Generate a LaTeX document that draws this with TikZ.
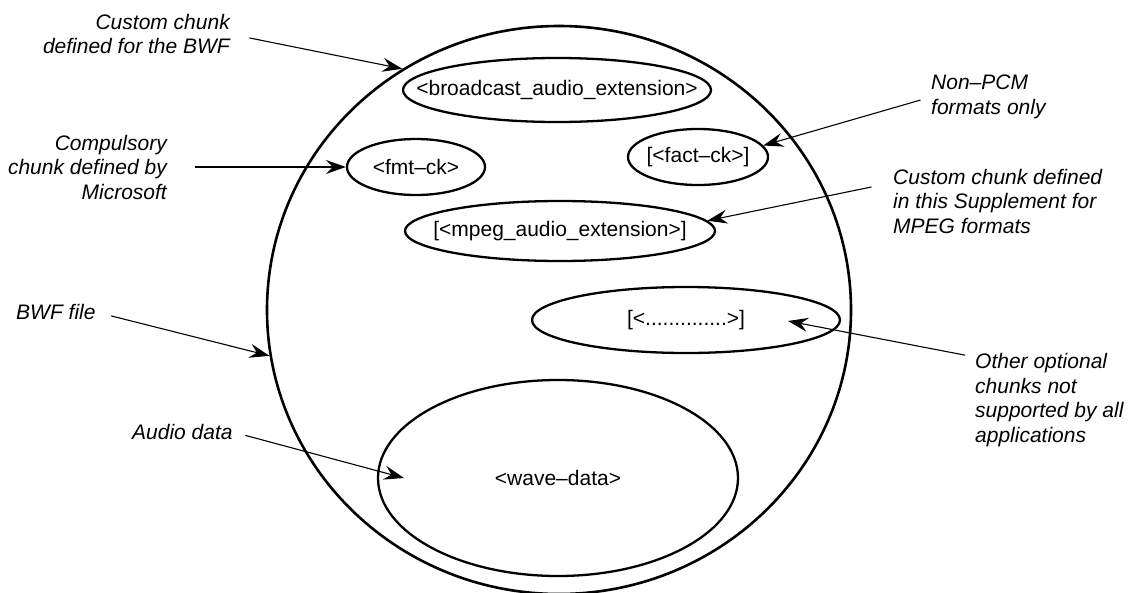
\documentclass[tikz,border=0pt]{standalone}
\usepackage{fontspec}
\setmainfont{Liberation Sans}
\usetikzlibrary{shapes.geometric,arrows.meta}

% ข้อความใน chunk ไม่กำหนดขนาดวงรี
\newcommand{\cktext}[1]{\makebox[0pt]{#1}}

\tikzset{
  chunk/.style={draw, ellipse, line width=2.3pt, inner sep=0pt, font=\fontsize{21}{24.5}\selectfont},
  note/.style={font=\fontsize{21}{24.5}\selectfont\itshape, inner sep=0pt},
  pointer/.style={-{Stealth[length=20pt,width=14pt,inset=7pt]}, line width=1.1pt},
}

\begin{document}
\begin{tikzpicture}[x=1pt,y=-1pt]
  \useasboundingbox (0,0) rectangle (1135,592);

  % วงรีใหญ่ (ไฟล์ BWF)
  \node[chunk, line width=2.6pt, minimum width=584pt, minimum height=568pt] (bwf) at (559,310) {};

  % chunk ต่าง ๆ ภายในไฟล์
  \node[chunk, minimum width=308pt, minimum height=64pt] (bext) at (557,90) {\cktext{<broadcast\_audio\_extension>}};
  \node[chunk, minimum width=138pt, minimum height=56pt] (fmt) at (416,167) {\cktext{<fmt–ck>}};
  \node[chunk, minimum width=140pt, minimum height=56pt] (fact) at (698,157) {\cktext{[<fact–ck>]}};
  \node[chunk, minimum width=310pt, minimum height=60pt] (mpeg) at (560,231) {\cktext{[<mpeg\_audio\_extension>]}};
  \node[chunk, minimum width=308pt, minimum height=66pt] (other) at (686,320) {\cktext{[<..............>]}};
  \node[chunk, minimum width=360pt, minimum height=196pt] (wave) at (558,478) {\cktext{<wave–data>}};

  \coordinate (othertip) at (788,321);
  \coordinate (wavetip) at (404,478);

  % คำอธิบาย
  \node[note, anchor=east, align=right] (custom) at (230,34) {Custom chunk\\defined for the BWF};
  \node[note, anchor=east, align=right] (compulsory) at (167,167) {Compulsory\\chunk defined by\\Microsoft};
  \node[note, anchor=west, align=left] (nonpcm) at (931,97) {Non–PCM\\formats only};
  \node[note, anchor=west, align=left] (supplement) at (893,201) {Custom chunk defined\\in this Supplement for\\MPEG formats};
  \node[note, anchor=west] (bwffile) at (16,312) {BWF file};
  \node[note, anchor=west] (audio) at (132,432) {Audio data};
  \node[note, anchor=west, align=left] (optional) at (975,400) {Other optional\\chunks not\\supported by all\\applications};

  % ลูกศร
  \draw[pointer, shorten <=20pt] (custom.east) -- (bwf.123);
  \draw[pointer, shorten <=28pt] (compulsory.east) -- (fmt.west);
  \draw[pointer, shorten <=11pt] (nonpcm.west) -- (fact.10);
  \draw[pointer, shorten <=22pt] (supplement.170) -- (mpeg.4);
  \draw[pointer, shorten <=16pt] (bwffile.east) -- (bwf.189);
  \draw[pointer, shorten <=13pt] (audio.east) -- (wavetip);
  \draw[pointer, shorten <=10pt] (optional.150) -- (othertip);
\end{tikzpicture}
\end{document}
